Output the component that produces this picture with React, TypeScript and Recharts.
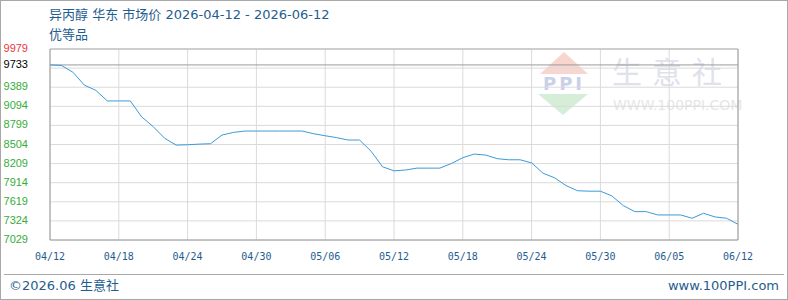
import { CartesianGrid, Line, LineChart, ReferenceLine, XAxis, YAxis } from 'recharts'

const title = '异丙醇 华东 市场价 2026-04-12 - 2026-06-12'
const subtitle = '优等品'
const footLeft = '©2026.06 生意社'
const footRight = 'www.100PPI.com'

// daily prices, 04/12 .. end of range
const prices = [
  9733, 9725, 9620, 9420, 9340, 9177, 9177, 9177, 8929, 8780,
  8600, 8495, 8500, 8510, 8516, 8650, 8691, 8712, 8712, 8712,
  8712, 8712, 8712, 8670, 8639, 8610, 8573, 8573, 8400, 8160,
  8097, 8110, 8139, 8139, 8139, 8210, 8300, 8356, 8341, 8285,
  8268, 8268, 8220, 8060, 7990, 7870, 7790, 7783, 7783, 7710,
  7560, 7467, 7467, 7416, 7416, 7416, 7365, 7442, 7385, 7365,
  7272,
]

const xTicks = [0, 6, 12, 18, 24, 30, 36, 42, 48, 54, 60]
const xLabels = ['04/12', '04/18', '04/24', '04/30', '05/06', '05/12', '05/18', '05/24', '05/30', '06/05', '06/12']

const baseValue = 9733
const topValue = 9979
const yTicks = [9979, 9733, 9389, 9094, 8799, 8504, 8209, 7914, 7619, 7324, 7029]
const pctLabels = ['2.53%', '0.00%', '-3.54%', '-6.57%', '-9.60%', '-12.63%', '-15.66%', '-18.69%', '-21.72%', '-24.75%', '-27.78%']
const gridTicks = [9979, 9684, 9389, 9094, 8799, 8504, 8209, 7914, 7619, 7324, 7029]

const rows = prices.map((price, day) => ({ day, price }))

const blue = '#1f5d8f'
const lineBlue = '#3b9ad9'
const frame = '#9a9a9a'
const gridGray = '#dadada'
const leftLabelRight = 28
const textFont = 'DejaVu Sans, Noto Sans CJK SC, sans-serif'

function tickColor(index: number) {
  if (index === 0) return '#e8383d'
  if (index === 1) return '#000000'
  return '#35ad3a'
}

function LeftTick(props: any) {
  const { y, index, payload } = props
  return (
    <text x={leftLabelRight} y={y + 3} textAnchor="end" fill={tickColor(index)} fontSize={11} fontFamily="Liberation Sans, Arial, sans-serif">
      {payload.value}
    </text>
  )
}

function RightTick(props: any) {
  const { x, y, index } = props
  return (
    <text x={x + 5} y={y + 3} textAnchor="start" fill={tickColor(index)} fontSize={10} fontFamily="DejaVu Sans Mono, monospace">
      {pctLabels[index]}
    </text>
  )
}

function BottomTick(props: any) {
  const { x, y, index } = props
  return (
    <text x={x} y={y + 20} textAnchor="middle" fill={blue} fontSize={10} fontFamily="DejaVu Sans Mono, monospace">
      {xLabels[index]}
    </text>
  )
}

// faint logo + site name behind the plot
function Watermark() {
  return (
    <>
      <div
        style={{
          position: 'absolute',
          left: 540,
          top: 52,
          width: 0,
          height: 0,
          borderLeft: '24px solid transparent',
          borderRight: '24px solid transparent',
          borderBottom: '22px solid #f8d6cf',
        }}
      />
      <div
        style={{
          position: 'absolute',
          left: 538,
          top: 75,
          width: 52,
          textAlign: 'center',
          fontSize: 18,
          lineHeight: '18px',
          fontWeight: 'bold',
          letterSpacing: 3,
          color: '#c9d1e8',
          fontFamily: 'DejaVu Sans, sans-serif',
        }}
      >
        PPI
      </div>
      <div
        style={{
          position: 'absolute',
          left: 538,
          top: 94,
          width: 0,
          height: 0,
          borderLeft: '25px solid transparent',
          borderRight: '25px solid transparent',
          borderTop: '21px solid #d6eed8',
        }}
      />
      <div
        style={{
          position: 'absolute',
          left: 612,
          top: 50,
          fontSize: 30,
          lineHeight: '40px',
          letterSpacing: 10,
          color: '#dfe2ec',
          whiteSpace: 'nowrap',
          fontFamily: 'Noto Sans CJK SC, sans-serif',
        }}
      >
        生意社
      </div>
      <div
        style={{
          position: 'absolute',
          left: 613,
          top: 97,
          fontSize: 14,
          lineHeight: '16px',
          color: '#e6e6e6',
          whiteSpace: 'nowrap',
          fontFamily: 'DejaVu Sans, sans-serif',
        }}
      >
        WWW.100PPI.COM
      </div>
    </>
  )
}

export default function App() {
  return (
    <div style={{ position: 'absolute', left: 0, top: 0, width: 788, height: 300, background: '#fff' }}>
      <Watermark />
      <div style={{ position: 'absolute', left: 49, top: 7, fontSize: 13, lineHeight: '16px', color: blue, whiteSpace: 'nowrap', fontFamily: textFont }}>
        {title}
      </div>
      <div style={{ position: 'absolute', left: 49, top: 27, fontSize: 13, lineHeight: '16px', color: blue, fontFamily: textFont }}>{subtitle}</div>
      <div style={{ position: 'absolute', left: 0, top: 0 }}>
        <LineChart width={788} height={300} data={rows} margin={{ top: 49, right: 0, bottom: 0, left: 0 }}>
          <CartesianGrid yAxisId="left" stroke={gridGray} horizontalValues={gridTicks} verticalValues={xTicks} />
          <XAxis
            dataKey="day"
            type="number"
            domain={[0, 60]}
            ticks={xTicks}
            interval={0}
            height={60}
            tickSize={0}
            tickMargin={0}
            tick={<BottomTick />}
            axisLine={{ stroke: frame }}
          />
          <YAxis
            yAxisId="left"
            type="number"
            domain={[7029, 9979]}
            ticks={yTicks}
            interval={0}
            width={50}
            tickSize={0}
            tickMargin={0}
            tick={<LeftTick />}
            axisLine={{ stroke: frame }}
          />
          <YAxis
            yAxisId="right"
            orientation="right"
            type="number"
            domain={[7029, 9979]}
            ticks={yTicks}
            interval={0}
            width={50}
            tickSize={0}
            tickMargin={0}
            tick={<RightTick />}
            axisLine={{ stroke: frame }}
          />
          <ReferenceLine yAxisId="left" y={topValue} stroke="#b0b0b0" />
          <ReferenceLine yAxisId="left" y={baseValue} stroke={frame} />
          <Line yAxisId="left" dataKey="price" type="linear" stroke={lineBlue} strokeWidth={1} dot={false} isAnimationActive={false} />
        </LineChart>
      </div>
      <div style={{ position: 'absolute', left: 4, right: 4, top: 274, borderTop: '1px solid #a8a8a8' }} />
      <div style={{ position: 'absolute', left: 9, top: 277, fontSize: 13, lineHeight: '18px', color: blue, fontFamily: textFont }}>{footLeft}</div>
      <div style={{ position: 'absolute', right: 9, top: 277, fontSize: 13, lineHeight: '18px', color: blue, fontFamily: textFont }}>{footRight}</div>
      <div
        style={{
          position: 'absolute',
          left: 0,
          top: 0,
          width: 788,
          height: 300,
          boxSizing: 'border-box',
          border: '1px solid #a8a8a8',
          pointerEvents: 'none',
        }}
      />
    </div>
  )
}
